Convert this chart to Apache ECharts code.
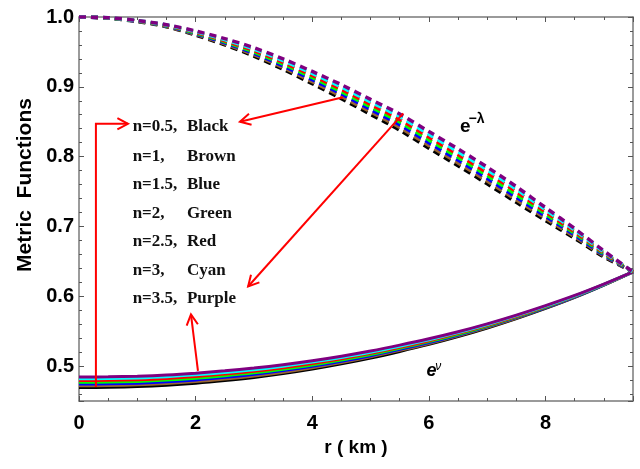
<!DOCTYPE html>
<html><head><meta charset="utf-8">
<script src="https://cdn.jsdelivr.net/npm/echarts@6/dist/echarts.min.js"></script>
<style>html,body{margin:0;padding:0;background:#fff}#c{width:640px;height:469px}</style>
</head><body><div id="c"></div>
<script>
// ---------- data ----------
const r = [0,0.5,1,1.5,2,2.5,3,3.5,4,4.5,5,5.5,6,6.5,7,7.5,8,8.5,9,9.5];

const nValues   = ['0.5','1','1.5','2','2.5','3','3.5'];
const colorNames = ['Black','Brown','Blue','Green','Red','Cyan','Purple'];
const colors = ['#000000','#996633','#0000ff','#00ff00','#ff0000','#00ffff','#800080'];

// e^nu (solid)
const eNu_black  = [0.4692,0.4696,0.4706,0.4725,0.4754,0.4792,0.4837,0.4892,0.4957,0.5032,0.5116,0.5210,0.5311,0.5422,0.5545,0.5680,0.5826,0.5984,0.6160,0.635];
const eNu_brown  = [0.4717,0.4721,0.4731,0.4750,0.4778,0.4815,0.4859,0.4913,0.4977,0.5050,0.5133,0.5225,0.5324,0.5434,0.5555,0.5688,0.5833,0.5989,0.6162,0.635];
const eNu_blue   = [0.4742,0.4746,0.4756,0.4774,0.4802,0.4839,0.4882,0.4935,0.4997,0.5069,0.5149,0.5240,0.5338,0.5445,0.5565,0.5697,0.5839,0.5993,0.6165,0.635];
const eNu_green  = [0.4767,0.4771,0.4781,0.4799,0.4826,0.4862,0.4904,0.4956,0.5017,0.5087,0.5166,0.5255,0.5351,0.5457,0.5575,0.5705,0.5846,0.5998,0.6167,0.635];
const eNu_red    = [0.4792,0.4796,0.4806,0.4824,0.4851,0.4885,0.4927,0.4977,0.5037,0.5105,0.5183,0.5270,0.5364,0.5469,0.5585,0.5713,0.5853,0.6003,0.6170,0.635];
const eNu_cyan   = [0.4817,0.4821,0.4831,0.4848,0.4875,0.4909,0.4949,0.4999,0.5057,0.5124,0.5199,0.5285,0.5378,0.5480,0.5595,0.5722,0.5859,0.6007,0.6172,0.635];
const eNu_purple = [0.4842,0.4846,0.4856,0.4873,0.4899,0.4932,0.4972,0.5020,0.5077,0.5142,0.5216,0.5300,0.5391,0.5492,0.5605,0.5730,0.5866,0.6012,0.6175,0.635];

// e^-lambda (dashed)
const eLam_black  = [1.0000,0.9983,0.9935,0.9860,0.9740,0.9600,0.9440,0.9250,0.9045,0.8830,0.8605,0.8380,0.8120,0.7870,0.7610,0.7345,0.7085,0.6830,0.6565,0.635];
const eLam_brown  = [1.0000,0.9984,0.9938,0.9865,0.9750,0.9615,0.9460,0.9275,0.9074,0.8863,0.8641,0.8418,0.8160,0.7910,0.7650,0.7382,0.7116,0.6853,0.6579,0.635];
const eLam_blue   = [1.0000,0.9985,0.9940,0.9870,0.9760,0.9630,0.9480,0.9300,0.9103,0.8897,0.8677,0.8457,0.8200,0.7950,0.7690,0.7418,0.7148,0.6877,0.6593,0.635];
const eLam_green  = [1.0000,0.9987,0.9943,0.9875,0.9770,0.9645,0.9500,0.9325,0.9133,0.8930,0.8713,0.8495,0.8240,0.7990,0.7730,0.7455,0.7178,0.6900,0.6608,0.635];
const eLam_red    = [1.0000,0.9988,0.9945,0.9880,0.9780,0.9660,0.9520,0.9350,0.9162,0.8963,0.8748,0.8533,0.8280,0.8030,0.7770,0.7497,0.7209,0.6923,0.6622,0.635];
const eLam_cyan   = [1.0000,0.9989,0.9948,0.9885,0.9790,0.9675,0.9540,0.9375,0.9191,0.8997,0.8784,0.8572,0.8320,0.8070,0.7810,0.7533,0.7239,0.6947,0.6636,0.635];
const eLam_purple = [1.0000,0.9990,0.9950,0.9890,0.9800,0.9690,0.9560,0.9400,0.9220,0.9030,0.8820,0.8610,0.8360,0.8110,0.7850,0.7570,0.7270,0.6970,0.6650,0.635];

// axis settings
const xMin = 0, xMax = 9.5, xMajor = 2, xMinorSplit = 4;
const yMin = 0.45, yMax = 1.0, yMajor = 0.1, yMinorSplit = 5;

// annotation anchors (data coords)
const arrows = [
  {from:[4.53,0.885], to:[2.76,0.850]},
  {from:[5.56,0.862], to:[2.90,0.614]},
  {from:[2.04,0.493], to:[1.92,0.574]}
];
const bracket = [[0.29,0.470],[0.29,0.847],[0.84,0.847]];
const legendX1 = 0.92, legendX2 = 1.85;
const legendY = [0.8429,0.8000,0.7596,0.7191,0.6786,0.6371,0.5967];

// ---------- chart ----------
const eNu  = [eNu_black,eNu_brown,eNu_blue,eNu_green,eNu_red,eNu_cyan,eNu_purple];
const eLam = [eLam_black,eLam_brown,eLam_blue,eLam_green,eLam_red,eLam_cyan,eLam_purple];

const chart = echarts.init(document.getElementById('c'));
const FRAME = '#7a7a7a';
const TICK = '#555';
const lblStyle = {color:'#000', fontFamily:'Liberation Sans, Arial, sans-serif', fontWeight:'bold', fontSize:20};

function axisCommon(){
  return {
    axisLine:{show:true, onZero:false, lineStyle:{color:FRAME, width:1.5}}, splitLine:{show:false},
    axisTick:{show:true, inside:true, length:5, lineStyle:{color:TICK, width:1}},
    minorTick:{show:true, length:3, lineStyle:{color:TICK, width:1}}
  };
}
const xAxes = [
  Object.assign(axisCommon(), {type:'value', min:xMin, max:xMax, interval:xMajor,
   axisLabel:Object.assign({show:true, margin:12, showMaxLabel:false, formatter:v=>String(Math.round(v))}, lblStyle)}),
  Object.assign(axisCommon(), {type:'value', min:xMin, max:xMax, interval:xMajor, position:'top', axisLabel:{show:false}})
];
const yAxes = [
  Object.assign(axisCommon(), {type:'value', min:yMin, max:yMax, minInterval:yMajor, maxInterval:yMajor,
   axisLabel:Object.assign({show:true, margin:5, showMinLabel:false, formatter:v=>v.toFixed(1)}, lblStyle)}),
  Object.assign(axisCommon(), {type:'value', min:yMin, max:yMax, minInterval:yMajor, maxInterval:yMajor, position:'right', axisLabel:{show:false}})
];
xAxes.forEach(a=>a.minorTick.splitNumber = xMinorSplit);
yAxes.forEach(a=>a.minorTick.splitNumber = yMinorSplit);

const series = [];
for (let k=0;k<7;k++){
  series.push({type:'line', name:'nu'+k, data:r.map((x,i)=>[x,eNu[k][i]]), showSymbol:false, smooth:0.3, clip:false,
    lineStyle:{color:colors[k], width:3}, z:2+k});
}
for (let k=0;k<7;k++){
  series.push({type:'line', name:'lam'+k, data:r.map((x,i)=>[x,eLam[k][i]]), showSymbol:false, smooth:0.3, clip:false,
    lineStyle:{color:colors[k], width:3.5, type:[7,5], cap:'butt'}, z:10+k});
}

chart.setOption({
  animation:false,
  grid:{left:79, right:7, top:17, bottom:68},
  xAxis:xAxes,
  yAxis:yAxes,
  series: series
});

// ---------- annotations ----------
function px(p){ return chart.convertToPixel({gridIndex:0}, p); }
const g = [];
function head(tip, from){
  const dx = from[0]-tip[0], dy = from[1]-tip[1];
  const L = Math.hypot(dx,dy), ux = dx/L, uy = dy/L;
  const a = 28*Math.PI/180, len = 12;
  const w = s => [tip[0] + len*(ux*Math.cos(s*a) - uy*Math.sin(s*a)), tip[1] + len*(ux*Math.sin(s*a) + uy*Math.cos(s*a))];
  return [w(1), tip, w(-1)];
}
const RED = '#ff0000';
arrows.forEach(a=>{
  const s = px(a.from), e = px(a.to);
  g.push({type:'line', shape:{x1:s[0],y1:s[1],x2:e[0],y2:e[1]}, style:{stroke:RED, lineWidth:2}, z:100});
  g.push({type:'polyline', shape:{points:head(e,s)}, style:{stroke:RED, lineWidth:2, fill:null}, z:100});
});
const bp = bracket.map(px);
g.push({type:'polyline', shape:{points:bp}, style:{stroke:RED, lineWidth:2, fill:null}, z:100});
g.push({type:'polyline', shape:{points:head(bp[2], bp[1])}, style:{stroke:RED, lineWidth:2, fill:null}, z:100});

const serif = {fontFamily:'Liberation Serif, Times New Roman, serif', fontWeight:'bold', fontSize:17, fill:'#111'};
for (let k=0;k<7;k++){
  const p1 = px([legendX1, legendY[k]]), p2 = px([legendX2, legendY[k]]);
  g.push({type:'text', x:p1[0], y:p1[1], style:Object.assign({text:'n='+nValues[k]+',', textAlign:'left', textVerticalAlign:'middle'}, serif), z:100});
  g.push({type:'text', x:p2[0], y:p2[1], style:Object.assign({text:colorNames[k], textAlign:'left', textVerticalAlign:'middle'}, serif), z:100});
}
// curve labels
const sans = 'Liberation Sans, Arial, sans-serif';
let q = px([6.535,0.8424]);
g.push({type:'text', x:q[0], y:q[1], style:{text:'e', font:'bold 19px '+sans, fill:'#000', textAlign:'left', textVerticalAlign:'middle'}, z:100});
q = px([6.68,0.853]);
g.push({type:'text', x:q[0], y:q[1], style:{text:'\u2212\u03bb', font:'bold 14px '+sans, fill:'#000', textAlign:'left', textVerticalAlign:'middle'}, z:100});
q = px([5.96,0.4925]);
g.push({type:'text', x:q[0], y:q[1], style:{text:'e', font:'italic bold 18px '+sans, fill:'#000', textAlign:'left', textVerticalAlign:'middle'}, z:100});
q = px([6.11,0.4996]);
g.push({type:'text', x:q[0], y:q[1], style:{text:'\u03bd', font:'italic 12px '+sans, fill:'#000', textAlign:'left', textVerticalAlign:'middle'}, z:100});
// axis titles
g.push({type:'text', x:356, y:448, style:{text:'r ( km )', font:'bold 19px '+sans, fill:'#000', textAlign:'center', textVerticalAlign:'middle'}, z:100});
g.push({type:'text', x:25, y:185, rotation:Math.PI/2, style:{text:'Metric  Functions', font:'bold 21px '+sans, fill:'#000', textAlign:'center', textVerticalAlign:'middle'}, z:100});

chart.setOption({graphic:{elements:g}});
</script></body></html>
